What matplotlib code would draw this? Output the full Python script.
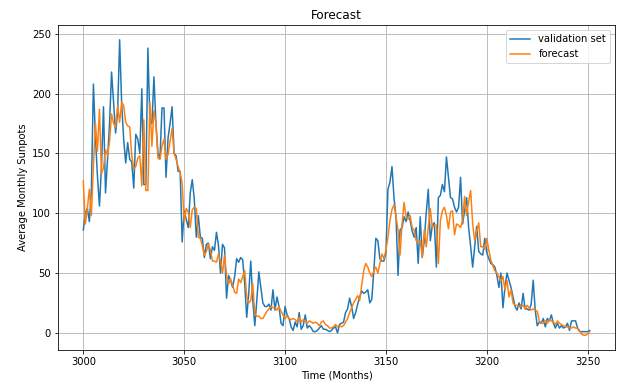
import numpy as np
import matplotlib
matplotlib.use("Agg")
import matplotlib.pyplot as plt


START_MONTH = 3000

# validation series (monthly sunspots)
valid_values = [
    86, 100, 104, 93, 120, 208, 164, 131, 106, 139,
    189, 117, 145, 175, 218, 192, 167, 184, 245, 192,
    162, 142, 159, 145, 143, 121, 166, 162, 150, 204,
    124, 124, 238, 178, 175, 214, 175, 150, 146, 188,
    188, 130, 163, 175, 189, 150, 148, 135, 135, 76,
    102, 95, 88, 117, 128, 112, 80, 98, 80, 79,
    63, 74, 75, 62, 72, 69, 84, 73, 50, 74,
    71, 29, 48, 44, 38, 47, 62, 59, 63, 61,
    41, 13, 33, 60, 27, 6, 27, 51, 38, 25,
    22, 22, 24, 19, 36, 19, 30, 22, 8, 6,
    22, 15, 12, 5, 2, 9, 5, 17, 3, 6,
    15, 4, 6, 4, 1, 1, 2, 4, 6, 3,
    3, 2, 1, 2, 4, 5, 0, 7, 8, 9,
    17, 20, 29, 22, 12, 17, 24, 30, 35, 33,
    34, 36, 25, 28, 52, 79, 77, 62, 60, 60,
    67, 120, 126, 139, 113, 97, 48, 86, 88, 97,
    93, 101, 94, 85, 80, 88, 58, 97, 63, 77,
    101, 120, 77, 90, 92, 55, 113, 115, 124, 118,
    147, 130, 113, 112, 105, 101, 105, 130, 91, 102,
    113, 88, 72, 55, 72, 89, 68, 66, 65, 79,
    67, 62, 58, 57, 55, 48, 38, 50, 21, 38,
    50, 44, 38, 30, 22, 19, 25, 20, 33, 20,
    20, 19, 24, 44, 19, 6, 9, 8, 12, 5,
    12, 10, 15, 8, 4, 8, 4, 6, 4, 5,
    8, 2, 10, 10, 10, 4, 1, 1, 1, 1,
    1, 2,
]

# model forecast for the same months
forecast_values = [
    127, 91, 104, 120, 98, 140, 175, 152, 187, 133,
    138, 153, 148, 160, 183, 175, 172, 190, 176, 193,
    190, 176, 173, 172, 148, 137, 139, 146, 148, 123,
    178, 119, 119, 193, 156, 186, 175, 146, 145, 156,
    162, 145, 149, 160, 171, 150, 145, 139, 134, 125,
    93, 104, 101, 88, 103, 105, 104, 80, 79, 73,
    65, 68, 74, 69, 60, 60, 59, 66, 60, 50,
    65, 48, 41, 45, 40, 34, 33, 45, 42, 47,
    52, 30, 25, 27, 41, 15, 14, 14, 12, 12,
    15, 18, 20, 22, 21, 21, 19, 22, 18, 15,
    12, 14, 12, 11, 12, 11, 9, 13, 9, 11,
    10, 8, 10, 9, 8, 9, 8, 6, 9, 10,
    7, 6, 4, 4, 5, 7, 5, 6, 5, 6,
    9, 12, 17, 21, 25, 28, 31, 27, 40, 52,
    58, 55, 50, 47, 52, 55, 50, 58, 66, 62,
    69, 80, 94, 103, 107, 97, 86, 65, 91, 109,
    97, 95, 98, 88, 86, 77, 75, 77, 63, 86,
    72, 88, 104, 88, 90, 90, 58, 94, 102, 105,
    98, 87, 101, 102, 82, 91, 90, 88, 94, 114,
    98, 110, 119, 91, 77, 85, 92, 72, 72, 70,
    79, 69, 61, 56, 52, 50, 47, 43, 47, 36,
    44, 30, 36, 25, 23, 23, 22, 22, 23, 20,
    23, 21, 19, 20, 19, 18, 10, 8, 8, 10,
    8, 11, 10, 9, 7, 10, 8, 7, 6, 5,
    5, 4, 4, 5, 4, 4, 2, -1, -2, -2,
    -1, 1,
]


def plot_series(months, valid, forecast):
    fig = plt.figure(figsize=(638 / 72, 388 / 72), dpi=72)
    ax = fig.add_axes([58 / 638, 1 - 350 / 388, 557 / 638, 325 / 388])

    ax.plot(months, valid, label="validation set")
    ax.plot(months, forecast, label="forecast")

    ax.set_title("Forecast")
    ax.set_xlabel("Time (Months)")
    ax.set_ylabel("Average Monthly Sunpots")
    ax.grid(True)
    ax.legend(loc="upper right")

    fig.savefig("out.png", dpi=72)


def main():
    months = np.arange(START_MONTH, START_MONTH + len(valid_values))
    plot_series(months, valid_values, forecast_values)


if __name__ == "__main__":
    main()
